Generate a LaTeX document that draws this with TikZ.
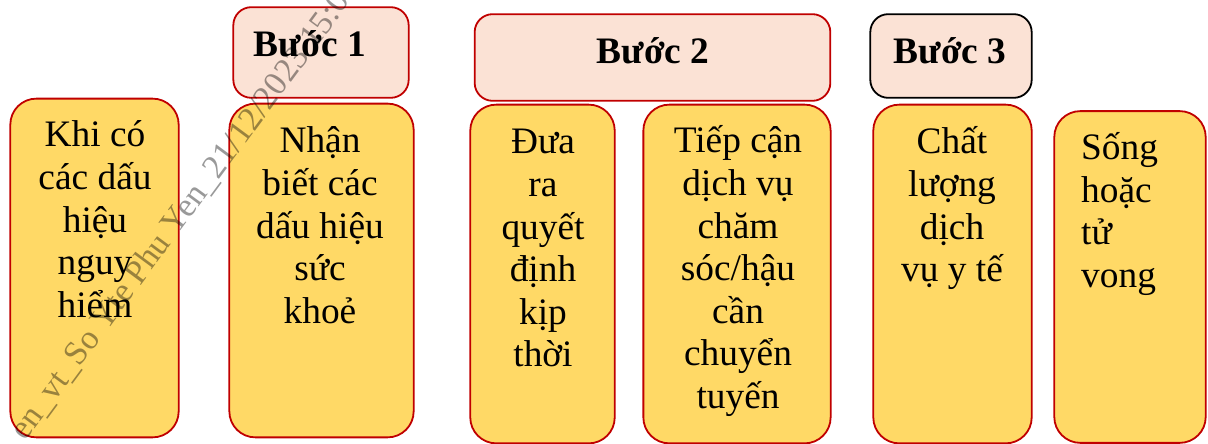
\documentclass[tikz,border=0pt]{standalone}
\usepackage{fontspec}
\setmainfont{Liberation Serif}
\definecolor{boxred}{HTML}{C00000}
\definecolor{boxgold}{HTML}{FFD966}
\definecolor{headpink}{HTML}{FBE2D5}
\begin{document}
\begin{tikzpicture}[x=1bp,y=-1bp,
  stage/.style={draw=boxred, line width=1.8bp, fill=boxgold,
    rounded corners=26bp, inner sep=0pt},
  header/.style={draw=boxred, line width=1.8bp, fill=headpink,
    rounded corners=18bp, inner sep=0pt},
  bodytext/.style={font=\fontsize{37.5}{42.7}\selectfont, align=flush center,
    anchor=base, inner sep=0pt, text width=#1},
  sidetext/.style={font=\fontsize{37.5}{42.5}\selectfont, align=flush left,
    anchor=base west, inner sep=0pt, text width=#1},
  headtext/.style={font=\fontsize{37.5}{40}\selectfont\bfseries,
    anchor=base, inner sep=0pt},
  stamp/.style={font=\fontsize{34}{34}\selectfont, text=black,
    text opacity=0.4, anchor=base west, inner sep=0pt, rotate=53.5}
]
\useasboundingbox (0,0) rectangle (1208,444);
\clip (0,0) rectangle (1208,444);

% step headers
\node[header, minimum width=176, minimum height=91] (h1) at (321,52.5) {};
\node[header, minimum width=357, minimum height=87] (h2) at (652.5,57.5) {};
\node[header, draw=black, minimum width=162, minimum height=84] (h3) at (951,56) {};

% stage columns
\node[stage, minimum width=169, minimum height=340] (a) at (94.5,268) {};
\node[stage, minimum width=185, minimum height=335] (b) at (321.5,270.5) {};
\node[stage, minimum width=145, minimum height=340] (c) at (542.5,274) {};
\node[stage, minimum width=188, minimum height=340] (d) at (737,274) {};
\node[stage, minimum width=159, minimum height=340] (e) at (952.5,274) {};
\node[stage, minimum width=152, minimum height=333] (f) at (1130,277) {};

% header labels
\node[headtext] (h1t) at (310,56.5) {Bước 1};
\node[headtext] (h2t) at (653,63.5) {Bước 2};
\node[headtext] (h3t) at (950,63.5) {Bước 3};

% column labels
\node[bodytext=170] (at) at (95,147) {Khi có\\các dấu\\hiệu\\nguy\\hiểm};
\node[bodytext=185] (bt) at (320,153) {Nhận\\biết các\\dấu hiệu\\sức\\khoẻ};
\node[bodytext=145] (ct) at (543,154) {Đưa\\ra\\quyết\\định\\kịp\\thời};
\node[bodytext=188] (dt) at (738,153) {Tiếp cận\\dịch vụ\\chăm\\sóc/hậu\\cần\\chuyển\\tuyến};
\node[bodytext=159] (et) at (952,154) {Chất\\lượng\\dịch\\vụ y tế};
\node[sidetext=120] (ft) at (1081,160) {Sống\\hoặc\\tử\\vong};

% diagonal stamp
\node[stamp] (wm) at (25,442) {en\_vt\_So Yte Phu Yen\_21/12/2023 15:08};
\end{tikzpicture}
\end{document}
